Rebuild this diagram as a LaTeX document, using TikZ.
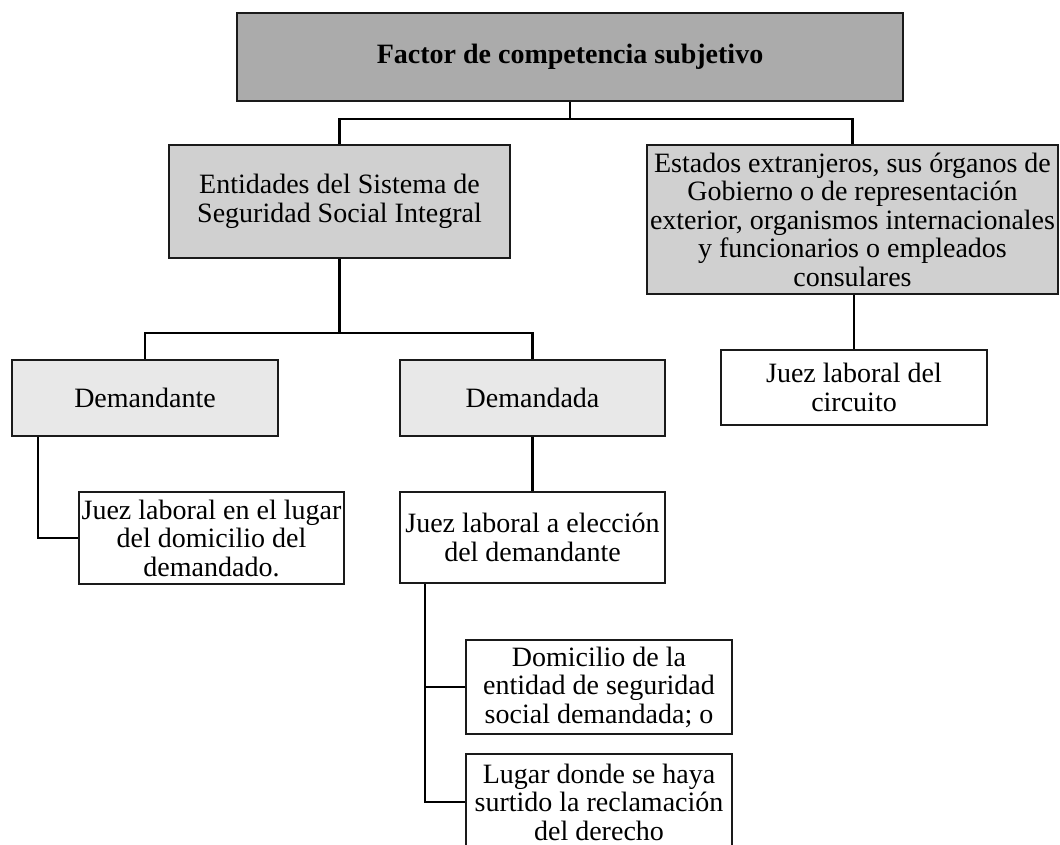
\documentclass[tikz,border=0pt]{standalone}
\usepackage{fontspec}
\setmainfont{Liberation Serif}
\usetikzlibrary{calc}
\definecolor{gdark}{HTML}{ABABAB}
\definecolor{gmid}{HTML}{D0D0D0}
\definecolor{glight}{HTML}{E8E8E8}
\definecolor{edge}{HTML}{1A1A1A}
\begin{document}
\begin{tikzpicture}[x=1pt,y=-1pt,
  boxbase/.style={draw=edge, line width=2.5pt, inner sep=0pt, align=center,
    font=\fontsize{28}{28.5}\selectfont, anchor=center},
  lvlzero/.style={boxbase, fill=gdark},
  lvlone/.style={boxbase, fill=gmid},
  lvltwo/.style={boxbase, fill=glight},
  leafbox/.style={boxbase, fill=white},
  conn/.style={draw=black, line width=2.2pt}]
\useasboundingbox (0,0) rectangle (1060,845);

\node[lvlzero, minimum width=666pt, minimum height=88pt] (top) at (570,57)
  {\textbf{Factor de competencia subjetivo}};
\node[lvlone, minimum width=341pt, minimum height=113pt] (ent) at (339.5,201.5)
  {Entidades del Sistema de\\Seguridad Social Integral};
\node[lvlone, minimum width=411pt, minimum height=149pt] (est) at (852.5,219.5)
  {Estados extranjeros, sus órganos de\\Gobierno o de representación\\exterior, organismos internacionales\\y funcionarios o empleados\\consulares};
\node[lvltwo, minimum width=266pt, minimum height=76pt] (dte) at (145,398)
  {Demandante};
\node[lvltwo, minimum width=265pt, minimum height=76pt] (dda) at (532.5,398)
  {Demandada};
\node[leafbox, minimum width=265pt, minimum height=92pt] (jlug) at (211.5,538)
  {Juez laboral en el lugar\\del domicilio del\\demandado.};
\node[leafbox, minimum width=265pt, minimum height=91pt] (jele) at (532.5,537.5)
  {Juez laboral a elección\\del demandante};
\node[leafbox, minimum width=266pt, minimum height=75pt] (jcir) at (854,387.5)
  {Juez laboral del\\circuito};
\node[leafbox, minimum width=266pt, minimum height=94pt] (dom) at (599,687)
  {Domicilio de la\\entidad de seguridad\\social demandada; o};
\node[leafbox, minimum width=266pt, minimum height=96pt] (lug) at (599,802)
  {Lugar donde se haya\\surtido la reclamación\\del derecho};

\coordinate (topbar) at ($(top.south)+(0,17)$);
\draw[conn] (top.south) -- (topbar) -| (ent.north);
\draw[conn] (topbar) -| (est.north);

\coordinate (entbar) at ($(ent.south)+(0,74)$);
\draw[conn] (ent.south) -- (entbar) -| (dte.north);
\draw[conn] (entbar) -| (dda.north);

\coordinate (dtestem) at ($(dte.south west)+(27,0)$);
\draw[conn] (dtestem) |- (jlug.west);

\draw[conn] (dda.south) -- (jele.north);

\coordinate (elestem) at ($(jele.south west)+(26,0)$);
\draw[conn] (elestem) |- (dom.west);
\draw[conn] (elestem) |- (lug.west);

\draw[conn] (jcir.north |- est.south) -- (jcir.north);
\end{tikzpicture}
\end{document}
